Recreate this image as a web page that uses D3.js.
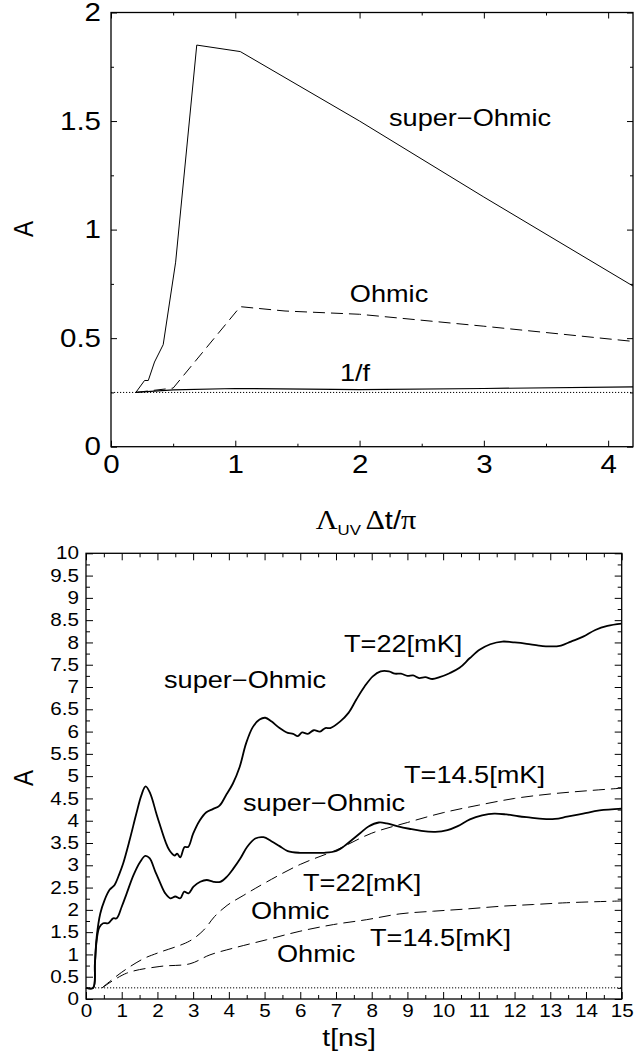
<!DOCTYPE html>
<html>
<head>
<meta charset="utf-8">
<script src="https://cdn.jsdelivr.net/npm/d3@7/dist/d3.min.js"></script>
<style>
  body { margin: 0; background: #fff; }
  svg { display: block; }
  text { font-family: "Liberation Sans", Arial, Helvetica, sans-serif; fill: #000; }
</style>
</head>
<body>
<div id="content"></div>
<script>
'use strict';

// ---- top panel data (x = Lambda_UV dt / pi) ----
var superOhmicX = [0.2, 0.27, 0.3, 0.35, 0.42, 0.52, 0.69, 1.04, 2, 3, 4.2]
var superOhmicA = [0.25, 0.305, 0.305, 0.39, 0.47, 0.85, 1.85, 1.82, 1.5, 1.15, 0.74]
var ohmicX = [0.2, 0.5, 1.04, 1.4, 2, 3, 4.2]
var ohmicA = [0.25, 0.27, 0.645, 0.625, 0.61, 0.555, 0.485]
var oneOverFX = [0.2, 0.5, 1.0, 2, 3, 4.2]
var oneOverFA = [0.25, 0.262, 0.268, 0.263, 0.268, 0.276]
var topRefX = [0, 4.2]
var topRefA = [0.25, 0.25]
var topXTicks = [0, 1, 2, 3, 4]
var topYTicks = [0, 0.5, 1, 1.5, 2]

// ---- bottom panel data (t in ns) ----
var so22T = [0, 0.2, 0.25, 0.3, 0.4, 0.52, 0.66, 0.8, 0.94, 1.04, 1.22, 1.41, 1.55, 1.67, 1.8, 1.97, 2.06, 2.23, 2.34, 2.48, 2.55, 2.64, 2.76, 2.86, 3.0, 3.18, 3.37, 3.55, 3.74, 3.92, 4.11, 4.3, 4.48, 4.67, 4.86, 5.02, 5.19, 5.42, 5.65, 5.8, 5.93, 6.05, 6.21, 6.38, 6.55, 6.7, 6.84, 7.12, 7.35, 7.57, 7.8, 8.03, 8.25, 8.48, 8.65, 8.82, 9.0, 9.16, 9.33, 9.5, 9.7, 9.9, 10.18, 10.46, 10.75, 11.03, 11.32, 11.66, 12.0, 12.34, 12.68, 13.02, 13.3, 13.58, 13.92, 14.26, 14.6, 15.0]
var so22A = [0.25, 0.25, 0.8, 1.4, 1.92, 2.22, 2.45, 2.56, 2.82, 3.04, 3.56, 4.16, 4.57, 4.77, 4.61, 4.16, 3.93, 3.52, 3.33, 3.22, 3.26, 3.18, 3.41, 3.41, 3.71, 4.0, 4.19, 4.26, 4.34, 4.57, 4.83, 5.2, 5.73, 6.1, 6.27, 6.31, 6.23, 6.08, 5.97, 5.95, 5.9, 5.98, 5.95, 6.03, 6.0, 6.08, 6.08, 6.23, 6.42, 6.72, 7.01, 7.24, 7.35, 7.35, 7.3, 7.3, 7.25, 7.26, 7.2, 7.22, 7.18, 7.22, 7.31, 7.43, 7.65, 7.84, 7.96, 8.02, 8.0, 7.97, 7.93, 7.91, 7.93, 8.02, 8.13, 8.28, 8.37, 8.42]
var so145T = [0, 0.2, 0.25, 0.29, 0.37, 0.48, 0.62, 0.76, 0.86, 1.0, 1.14, 1.33, 1.52, 1.66, 1.78, 1.94, 2.08, 2.22, 2.36, 2.5, 2.64, 2.75, 2.87, 3.01, 3.2, 3.38, 3.57, 3.76, 3.94, 4.13, 4.32, 4.51, 4.74, 4.97, 5.19, 5.42, 5.65, 5.99, 6.33, 6.67, 7.01, 7.23, 7.46, 7.69, 7.91, 8.2, 8.42, 8.71, 9.05, 9.39, 9.78, 10.12, 10.41, 10.75, 11.09, 11.43, 11.77, 12.11, 12.45, 12.79, 13.13, 13.47, 13.92, 14.38, 15.0]
var so145A = [0.25, 0.25, 0.8, 1.25, 1.6, 1.7, 1.7, 1.81, 1.81, 2.07, 2.37, 2.78, 3.08, 3.21, 3.16, 2.86, 2.6, 2.37, 2.26, 2.3, 2.26, 2.41, 2.37, 2.52, 2.63, 2.67, 2.63, 2.63, 2.74, 2.93, 3.15, 3.41, 3.6, 3.63, 3.54, 3.43, 3.32, 3.28, 3.28, 3.28, 3.32, 3.43, 3.58, 3.73, 3.87, 3.96, 3.94, 3.88, 3.82, 3.77, 3.75, 3.79, 3.88, 4.03, 4.12, 4.16, 4.14, 4.1, 4.07, 4.04, 4.04, 4.09, 4.16, 4.23, 4.27]
var oh22T = [0.45, 1.0, 1.6, 2.0, 2.9, 3.3, 3.6, 3.95, 4.4, 5.0, 6.0, 7.0, 8.0, 9.0, 10.0, 11.0, 12.0, 13.0, 14.0, 15.0]
var oh22A = [0.25, 0.6, 0.9, 1.03, 1.3, 1.55, 1.85, 2.1, 2.32, 2.6, 3.02, 3.34, 3.72, 3.96, 4.18, 4.35, 4.5, 4.6, 4.67, 4.73]
var oh145T = [0.45, 1.14, 2.07, 2.91, 3.47, 4.12, 5.06, 5.99, 6.93, 7.86, 8.79, 9.73, 10.66, 11.6, 12.53, 13.46, 15.0]
var oh145A = [0.25, 0.58, 0.73, 0.79, 0.99, 1.14, 1.33, 1.52, 1.67, 1.78, 1.91, 1.97, 2.02, 2.08, 2.12, 2.16, 2.2]
var botRefT = [0, 15]
var botRefA = [0.25, 0.25]

var W = 634, H = 1057
var SX = 1.18 // the printed lettering is a bit wide

var svg = d3.select('#content').append('svg').attr('width', W).attr('height', H)

function zip(xs, ys) {
    return xs.map(function(d, i) { return [d, ys[i]] })
}

function label(g, x, y, str, size, anchor) {
    return g.append('text')
        .attr('transform', 'translate(' + x + ',' + y + ') scale(' + SX + ',1)')
        .attr('text-anchor', anchor || 'start')
        .style('font-size', size + 'px')
        .text(str)
}

function widen(sel) {
    sel.selectAll('text').each(function() {
        var t = d3.select(this)
        var x = +t.attr('x') || 0
        t.attr('x', x / SX).attr('transform', 'scale(' + SX + ',1)')
    })
}

// frame + mirrored ticks on all four sides
function frame(g, o) {
    var x = o.x, y = o.y
    var x0 = x.range()[0], x1 = x.range()[1], y0 = y.range()[0], y1 = y.range()[1]

    var bx = g.append('g').attr('transform', 'translate(0,' + y0 + ')')
        .call(d3.axisBottom(x).tickValues(o.xMajor).tickSize(-o.major).tickPadding(o.xPad).tickFormat(o.xFmt))
    bx.selectAll('text').style('font-size', o.font + 'px')
    widen(bx)
    g.append('g').attr('transform', 'translate(0,' + y0 + ')')
        .call(d3.axisBottom(x).tickValues(o.xMinor).tickSize(-o.minor).tickFormat(''))
    g.append('g').attr('transform', 'translate(0,' + y1 + ')')
        .call(d3.axisTop(x).tickValues(o.xMajor).tickSize(-o.major).tickFormat(''))
    g.append('g').attr('transform', 'translate(0,' + y1 + ')')
        .call(d3.axisTop(x).tickValues(o.xMinor).tickSize(-o.minor).tickFormat(''))

    var ly = g.append('g').attr('transform', 'translate(' + x0 + ',0)')
        .call(d3.axisLeft(y).tickValues(o.yMajor).tickSize(-o.major).tickPadding(o.yPad).tickFormat(o.yFmt))
    ly.selectAll('text').style('font-size', o.font + 'px')
    widen(ly)
    g.append('g').attr('transform', 'translate(' + x0 + ',0)')
        .call(d3.axisLeft(y).tickValues(o.yMinor).tickSize(-o.minor).tickFormat(''))
    g.append('g').attr('transform', 'translate(' + x1 + ',0)')
        .call(d3.axisRight(y).tickValues(o.yMajor).tickSize(-o.major).tickFormat(''))
    g.append('g').attr('transform', 'translate(' + x1 + ',0)')
        .call(d3.axisRight(y).tickValues(o.yMinor).tickSize(-o.minor).tickFormat(''))

    g.selectAll('.domain').remove()
    g.selectAll('.tick line').attr('stroke', '#000').attr('stroke-width', 1)
    g.append('rect').attr('x', x0).attr('y', y1).attr('width', x1 - x0).attr('height', y0 - y1)
        .attr('fill', 'none').attr('stroke', '#000').attr('stroke-width', 1.3)
}

function curve(g, x, y, pts, width, dash, smooth) {
    var line = d3.line().x(function(d) { return x(d[0]) }).y(function(d) { return y(d[1]) })
    if (smooth) line.curve(d3.curveCatmullRom.alpha(0.5))
    g.append('path').datum(pts).attr('d', line)
        .attr('fill', 'none').attr('stroke', '#000').attr('stroke-width', width)
        .attr('stroke-linejoin', 'round')
        .attr('stroke-dasharray', dash || null)
}

// ================= top panel =================
var gt = svg.append('g')
var xt = d3.scaleLinear().domain([0, 4.2]).range([111, 633])
var yt = d3.scaleLinear().domain([0, 2]).range([446.7, 12.5])

curve(gt, xt, yt, zip(topRefX, topRefA), 1, '1.2,1.8')
curve(gt, xt, yt, zip(superOhmicX, superOhmicA), 1)
curve(gt, xt, yt, zip(ohmicX, ohmicA), 1, '12,6')
curve(gt, xt, yt, zip(oneOverFX, oneOverFA), 1.2)

frame(gt, {
    x: xt, y: yt,
    xMajor: topXTicks, xMinor: d3.range(0.5, 4.2, 1),
    yMajor: topYTicks, yMinor: d3.range(0.25, 2, 0.5),
    major: 6, minor: 3, font: 25, xPad: 9, yPad: 10,
    xFmt: d3.format('d'), yFmt: function(d) { return String(d) }
})

label(gt, 389, 126, 'super\u2212Ohmic', 23)
label(gt, 389, 302, 'Ohmic', 23, 'middle')
label(gt, 355, 381, '1/f', 23, 'middle')
label(gt, 33, 229, 'A', 24, 'middle').attr('transform', 'translate(33,229) scale(' + SX + ',1) rotate(-90)')

var serif = '"Liberation Serif", "DejaVu Serif", serif'
var xl = gt.append('text').attr('transform', 'translate(366,529) scale(1.12,1)').attr('text-anchor', 'middle')
xl.append('tspan').style('font-family', serif).style('font-size', '27px').text('\u039B')
xl.append('tspan').style('font-size', '15px').attr('dy', 6).text('UV')
xl.append('tspan').style('font-family', serif).style('font-size', '27px').attr('dy', -6).attr('dx', 4).text('\u0394')
xl.append('tspan').style('font-size', '26px').text('t/')
xl.append('tspan').style('font-family', serif).style('font-size', '27px').text('\u03C0')

// ================= bottom panel =================
var gb = svg.append('g')
var xb = d3.scaleLinear().domain([0, 15]).range([86, 621.7])
var yb = d3.scaleLinear().domain([0, 10]).range([999, 553.3])

curve(gb, xb, yb, zip(botRefT, botRefA), 1, '1.2,1.8')
curve(gb, xb, yb, zip(oh22T, oh22A), 1, '12,6', true)
curve(gb, xb, yb, zip(oh145T, oh145A), 1, '12,6', true)
curve(gb, xb, yb, zip(so22T, so22A), 1.8, null, true)
curve(gb, xb, yb, zip(so145T, so145A), 1.8, null, true)

frame(gb, {
    x: xb, y: yb,
    xMajor: d3.range(0, 16, 1), xMinor: d3.range(0.5, 15, 1),
    yMajor: d3.range(0, 10.01, 0.5), yMinor: d3.range(0.25, 10, 0.5),
    major: 7, minor: 4, font: 17.5, xPad: 6, yPad: 7,
    xFmt: d3.format('d'), yFmt: function(d) { return String(+d.toFixed(1)) }
})

label(gb, 344, 652, 'T=22[mK]', 23)
label(gb, 164, 688, 'super\u2212Ohmic', 23)
label(gb, 404, 783, 'T=14.5[mK]', 23)
label(gb, 243, 811, 'super\u2212Ohmic', 23)
label(gb, 303, 891, 'T=22[mK]', 23)
label(gb, 251, 919, 'Ohmic', 23)
label(gb, 370, 946, 'T=14.5[mK]', 23)
label(gb, 277, 962, 'Ohmic', 23)
label(gb, 349, 1046, 't[ns]', 24, 'middle')
label(gb, 33, 778, 'A', 24, 'middle').attr('transform', 'translate(33,778) scale(' + SX + ',1) rotate(-90)')
</script>
</body>
</html>
